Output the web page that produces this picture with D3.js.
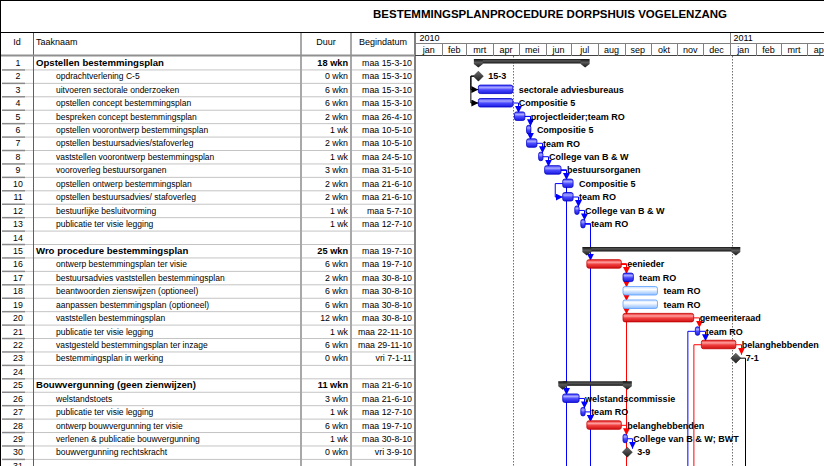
<!DOCTYPE html>
<html>
<head>
<meta charset="utf-8">
<script src="https://cdn.jsdelivr.net/npm/d3@7"></script>
<style>
  body { margin: 0; background: #fff; }
  svg { display: block; font-family: "Liberation Sans", Arial, sans-serif; }
</style>
</head>
<body>
<svg id="gantt" width="824" height="466"></svg>
<script>
// ---- data ----
const chartTitle = 'BESTEMMINGSPLANPROCEDURE DORPSHUIS VOGELENZANG';

const taskNames = [
  'Opstellen bestemmingsplan', 'opdrachtverlening C-5', 'uitvoeren sectorale onderzoeken',
  'opstellen concept bestemmingsplan', 'bespreken concept bestemmingsplan',
  'opstellen voorontwerp bestemmingsplan', 'opstellen bestuursadvies/stafoverleg',
  'vaststellen voorontwerp bestemmingsplan', 'vooroverleg bestuursorganen',
  'opstellen ontwerp bestemmingsplan', 'opstellen bestuursadvies/ stafoverleg',
  'bestuurlijke besluitvorming', 'publicatie ter visie legging', '',
  'Wro procedure bestemmingsplan', 'ontwerp bestemmingsplan ter visie',
  'bestuursadvies vaststellen bestemmingsplan', 'beantwoorden zienswijzen (optioneel)',
  'aanpassen bestemmingsplan (optioneel)', 'vaststellen bestemmingsplan',
  'publicatie ter visie legging', 'vastgesteld bestemmingsplan ter inzage',
  'bestemmingsplan in werking', '',
  'Bouwvergunning (geen zienwijzen)', 'welstandstoets', 'publicatie ter visie legging',
  'ontwerp bouwvergunning ter visie', 'verlenen & publicatie bouwvergunning',
  'bouwvergunning rechtskracht', ''
];

const durations = [
  '18 wkn', '0 wkn', '6 wkn', '6 wkn', '2 wkn', '1 wk', '2 wkn', '1 wk', '3 wkn', '2 wkn',
  '2 wkn', '1 wk', '1 wk', '', '25 wkn', '6 wkn', '2 wkn', '6 wkn', '6 wkn', '12 wkn',
  '1 wk', '6 wkn', '0 wkn', '', '11 wkn', '3 wkn', '1 wk', '6 wkn', '1 wk', '0 wkn', ''
];

const startLabels = [
  'maa 15-3-10', 'maa 15-3-10', 'maa 15-3-10', 'maa 15-3-10', 'maa 26-4-10', 'maa 10-5-10',
  'maa 10-5-10', 'maa 24-5-10', 'maa 31-5-10', 'maa 21-6-10', 'maa 21-6-10', 'maa 5-7-10',
  'maa 12-7-10', '', 'maa 19-7-10', 'maa 19-7-10', 'maa 30-8-10', 'maa 30-8-10',
  'maa 30-8-10', 'maa 30-8-10', 'maa 22-11-10', 'maa 29-11-10', 'vri 7-1-11', '',
  'maa 21-6-10', 'maa 21-6-10', 'maa 12-7-10', 'maa 19-7-10', 'maa 30-8-10', 'vri 3-9-10', ''
];

// bar start / bar end (end = midnight after the last working day)
const barStarts = [
  '2010-03-15', '2010-03-15', '2010-03-15', '2010-03-15', '2010-04-26', '2010-05-10',
  '2010-05-10', '2010-05-24', '2010-05-31', '2010-06-21', '2010-06-21', '2010-07-05',
  '2010-07-12', '', '2010-07-19', '2010-07-19', '2010-08-30', '2010-08-30',
  '2010-08-30', '2010-08-30', '2010-11-22', '2010-11-29', '2011-01-08', '',
  '2010-06-21', '2010-06-21', '2010-07-12', '2010-07-19', '2010-08-30', '2010-09-04', ''
];
const barEnds = [
  '2010-07-17', '2010-03-15', '2010-04-24', '2010-04-24', '2010-05-08', '2010-05-15',
  '2010-05-22', '2010-05-29', '2010-06-19', '2010-07-03', '2010-07-03', '2010-07-10',
  '2010-07-17', '', '2011-01-08', '2010-08-28', '2010-09-11', '2010-10-09',
  '2010-10-09', '2010-11-20', '2010-11-27', '2011-01-08', '2011-01-08', '',
  '2010-09-04', '2010-07-10', '2010-07-17', '2010-08-28', '2010-09-04', '2010-09-04', ''
];

// summary | milestone | task | critical | optional
const barKinds = [
  'summary', 'milestone', 'task', 'task', 'task', 'task', 'task', 'task', 'task', 'task',
  'task', 'task', 'task', '', 'summary', 'critical', 'task', 'optional', 'optional', 'critical',
  'task', 'critical', 'milestone', '', 'summary', 'task', 'task', 'critical', 'task', 'milestone', ''
];

const barLabels = [
  '', '15-3', 'sectorale adviesbureaus', 'Compositie 5', 'projectleider;team RO', 'Compositie 5',
  'team RO', 'College van B & W', 'bestuursorganen', 'Compositie 5', 'team RO',
  'College van B & W', 'team RO', '', '', 'eenieder', 'team RO', 'team RO', 'team RO',
  'gemeenteraad', 'team RO', 'belanghebbenden', '7-1', '', '', 'welstandscommissie',
  'team RO', 'belanghebbenden', 'College van B & W; BWT', '3-9', ''
];

// links (task ids); null target = a task below the visible part
const linkFrom  = [2, 2, 4, 5, 5, 7, 8, 9, 9, 9, 10, 11, 12, 13, 13, 13, 16, 16, 16, 16, 16, 20, 21, 21, 22, 22, 23, 26, 27, 28, 29];
const linkTo    = [3, 4, 5, 6, 7, 8, 9, 10, 26, null, 11, 12, 13, 16, 28, null, 17, 18, 19, 20, null, 21, 22, null, 23, null, null, 27, 28, 29, 30];
const linkTypes = ['ss', 'ss', 'fs', 'fs', 'fs', 'fs', 'fs', 'fs', 'fs', 'fs', 'ss', 'fs', 'fs', 'fs', 'fs', 'fs', 'fs', 'fs', 'fs', 'fs', 'fs', 'fs', 'fs', 'ss', 'fs', 'ss', 'fs', 'fs', 'fs', 'fs', 'fs'];
const linkColors = ['k', 'k', 'b', 'b', 'b', 'b', 'b', 'b', 'b', 'b', 'b', 'b', 'b', 'b', 'b', 'b', 'r', 'r', 'r', 'r', 'r', 'r', 'b', 'b', 'r', 'r', 'k', 'b', 'b', 'r', 'b'];

const years = ['2010', '2011'];
const monthNames = ['jan', 'feb', 'mrt', 'apr', 'mei', 'jun', 'jul', 'aug', 'sep', 'okt', 'nov', 'dec'];
const markerDates = ['2010-04-24', '2011-01-03'];

// ---- layout ----
const W = 824, H = 466;
const cols = { id: 1, name: 33, dur: 301, start: 351, end: 415 };
const headTop = 33, headBottom = 56, rowH = 13.43;
const parse = d3.timeParse('%Y-%m-%d');
const colorMap = { b: '#0000ff', r: '#ff0000', k: '#000000' };

const svg = d3.select('#gantt');
const defs = svg.append('defs');

function grad(id, stops) {
  const g = defs.append('linearGradient').attr('id', id)
    .attr('x1', 0).attr('y1', 0).attr('x2', 0).attr('y2', 1);
  stops.forEach(s => g.append('stop').attr('offset', s[0]).attr('stop-color', s[1]));
}
grad('gBlue', [[0, '#3a3aff'], [0.3, '#a8a8ff'], [0.55, '#4a4aff'], [1, '#1a1ae0']]);
grad('gRed', [[0, '#e82020'], [0.3, '#ffa0a0'], [0.55, '#f04040'], [1, '#d01010']]);
grad('gOpt', [[0, '#c8e0ff'], [0.35, '#ffffff'], [0.6, '#cfe3ff'], [1, '#8fbfff']]);
grad('gSum', [[0, '#101010'], [0.4, '#5a5a5a'], [1, '#141414']]);
grad('gMile', [[0, '#6a6a6a'], [1, '#202020']]);

['b', 'r', 'k'].forEach(c => {
  defs.append('marker').attr('id', 'arrow-' + c)
    .attr('viewBox', '0 0 10 10').attr('refX', 10).attr('refY', 5)
    .attr('markerWidth', 7).attr('markerHeight', 7).attr('markerUnits', 'userSpaceOnUse')
    .attr('orient', 'auto')
    .append('path').attr('d', 'M0,0L10,5L0,10Z').attr('fill', colorMap[c]);
});

// scales
const x = d3.scaleTime()
  .domain([parse('2010-01-01'), parse('2011-01-01')])
  .range([415.5, 729.8]);
const y = d3.scaleLinear().domain([0, taskNames.length]).range([headBottom, headBottom + taskNames.length * rowH]);
const rowTop = i => y(i);
const rowMid = i => y(i) + rowH / 2;

// ---- title ----
svg.append('text')
  .attr('x', 550).attr('y', 18)
  .attr('text-anchor', 'middle')
  .attr('font-size', 11.5).attr('font-weight', 'bold')
  .text(chartTitle);

// ---- table ----
const table = svg.append('g').attr('class', 'table');
taskNames.forEach((name, i) => {
  const yy = rowTop(i + 1);
  table.append('line').attr('x1', cols.name).attr('x2', cols.end).attr('y1', yy + 0.5).attr('y2', yy + 0.5)
    .attr('stroke', '#c4c4c4');
  table.append('line').attr('x1', 2).attr('x2', cols.name - 8).attr('y1', yy + 0.5).attr('y2', yy + 0.5)
    .attr('stroke', '#8a8a8a').attr('stroke-width', 1.5);
  table.append('line').attr('x1', cols.name - 8).attr('x2', cols.name).attr('y1', yy + 0.5).attr('y2', yy + 0.5)
    .attr('stroke', '#c4c4c4');

  const ty = rowMid(i) + 3.2;
  const summary = barKinds[i] === 'summary';
  const fs = summary ? 9.6 : 8.5;
  table.append('text').attr('x', 18).attr('y', ty).attr('text-anchor', 'middle')
    .attr('font-size', 8.8).text(i + 1);
  table.append('text').attr('x', summary ? cols.name + 3 : cols.name + 23).attr('y', ty)
    .attr('font-size', fs).attr('font-weight', summary ? 'bold' : 'normal').text(name);
  table.append('text').attr('x', cols.start - 3).attr('y', ty).attr('text-anchor', 'end')
    .attr('font-size', summary ? 9.2 : 8.8).attr('font-weight', summary ? 'bold' : 'normal').text(durations[i]);
  table.append('text').attr('x', cols.end - 3).attr('y', ty).attr('text-anchor', 'end')
    .attr('font-size', 8.8).text(startLabels[i]);
});

// column lines
table.append('line').attr('x1', cols.name + 0.5).attr('x2', cols.name + 0.5).attr('y1', headTop).attr('y2', H)
  .attr('stroke', '#606060');
[cols.dur, cols.start].forEach(cx => {
  table.append('line').attr('x1', cx).attr('x2', cx).attr('y1', headTop).attr('y2', H)
    .attr('stroke', '#a8a8a8').attr('stroke-width', 2);
});
table.append('line').attr('x1', cols.end).attr('x2', cols.end).attr('y1', headTop).attr('y2', H)
  .attr('stroke', '#808080').attr('stroke-width', 2);

// column headers
const headY = 45;
table.append('text').attr('x', 17).attr('y', headY).attr('text-anchor', 'middle').attr('font-size', 9).text('Id');
table.append('text').attr('x', cols.name + 3).attr('y', headY).attr('font-size', 9).text('Taaknaam');
table.append('text').attr('x', (cols.dur + cols.start) / 2).attr('y', headY).attr('text-anchor', 'middle').attr('font-size', 9).text('Duur');
table.append('text').attr('x', (cols.start + cols.end) / 2).attr('y', headY).attr('text-anchor', 'middle').attr('font-size', 9).text('Begindatum');
table.append('line').attr('x1', 0).attr('x2', cols.end).attr('y1', headBottom - 0.5).attr('y2', headBottom - 0.5)
  .attr('stroke', '#909090').attr('stroke-width', 2);

// ---- timescale header ----
const tl = svg.append('g').attr('class', 'timescale');
const t0 = parse('2010-01-01'), t1 = parse('2011-06-01');
const yearMid = 43;
tl.append('line').attr('x1', cols.end).attr('x2', W).attr('y1', yearMid + 0.5).attr('y2', yearMid + 0.5).attr('stroke', '#808080');
tl.append('line').attr('x1', cols.end).attr('x2', W).attr('y1', headBottom - 0.5).attr('y2', headBottom - 0.5).attr('stroke', '#404040');

d3.timeYear.range(t0, t1).forEach((d, i) => {
  const xx = Math.round(x(d)) + 0.5;
  if (i > 0) tl.append('line').attr('x1', xx).attr('x2', xx).attr('y1', headTop).attr('y2', headBottom).attr('stroke', '#808080');
  tl.append('text').attr('x', xx + 3).attr('y', 41).attr('font-size', 9).text(years[i]);
});
d3.timeMonth.range(t0, t1).forEach(d => {
  const xx = Math.round(x(d)) + 0.5;
  const next = d3.timeMonth.offset(d, 1);
  if (d.getMonth() !== 0 || d.getFullYear() !== 2010)
    tl.append('line').attr('x1', xx).attr('x2', xx).attr('y1', yearMid).attr('y2', headBottom).attr('stroke', '#808080');
  tl.append('text').attr('x', (x(d) + x(next)) / 2).attr('y', 53).attr('text-anchor', 'middle')
    .attr('font-size', 9).text(monthNames[d.getMonth()]);
});

// marker lines
markerDates.forEach(ds => {
  const xx = Math.round(x(parse(ds))) + 0.5;
  tl.append('line').attr('x1', xx).attr('x2', xx).attr('y1', headBottom).attr('y2', H)
    .attr('stroke', '#707070').attr('stroke-dasharray', '1.5,1.5');
});

// ---- links ----
const gl = svg.append('g').attr('class', 'links').attr('fill', 'none');
const barStartX = i => x(parse(barStarts[i - 1]));
const barEndX = i => x(parse(barEnds[i - 1]));
linkFrom.forEach((from, k) => {
  const to = linkTo[k];
  const col = colorMap[linkColors[k]];
  const yFrom = rowMid(from - 1);
  let d;
  if (linkTypes[k] === 'ss') {
    const xs = barStartX(from) - (barKinds[from - 1] === 'milestone' ? 4 : 0);
    const xe = barStartX(from) - 7.5;
    if (to === null) d = `M${xs},${yFrom}H${xe}V${H}`;
    else d = `M${xs},${yFrom}H${xe}V${rowMid(to - 1)}H${barStartX(to)}`;
  } else {
    const xs = barEndX(from) + (barKinds[from - 1] === 'milestone' ? 4 : 0);
    const xe = Math.round(Math.max(xs + 2, to === null ? 0 : barStartX(to)) + 3) + 0.5;
    if (to === null) d = `M${xs},${yFrom}H${xe}V${H}`;
    else d = `M${xs},${yFrom}H${xe}V${rowMid(to - 1) - 3.5}`;
  }
  const p = gl.append('path').attr('d', d).attr('stroke', col).attr('stroke-width', 1);
  if (to !== null) p.attr('marker-end', `url(#arrow-${linkColors[k]})`);
});

// ---- bars ----
const gb = svg.append('g').attr('class', 'bars');
barKinds.forEach((kind, i) => {
  if (!kind) return;
  const xs = x(parse(barStarts[i])), xe = x(parse(barEnds[i]));
  const top = rowTop(i);
  const mid = rowMid(i);
  if (kind === 'summary') {
    gb.append('rect').attr('x', xs).attr('y', top + 3).attr('width', xe - xs).attr('height', 4.5)
      .attr('fill', 'url(#gSum)');
    [xs, xe].forEach(cx => {
      gb.append('path')
        .attr('d', `M${cx - 4.5},${top + 3}H${cx + 4.5}V${top + 8}L${cx},${top + 11.5}L${cx - 4.5},${top + 8}Z`)
        .attr('fill', 'url(#gSum)');
    });
  } else if (kind === 'milestone') {
    gb.append('path')
      .attr('d', `M${xs},${mid - 5}L${xs + 5},${mid}L${xs},${mid + 5}L${xs - 5},${mid}Z`)
      .attr('fill', 'url(#gMile)').attr('stroke', '#202020').attr('stroke-width', 0.5);
  } else {
    const fill = kind === 'critical' ? 'url(#gRed)' : kind === 'optional' ? 'url(#gOpt)' : 'url(#gBlue)';
    const stroke = kind === 'critical' ? '#c00000' : kind === 'optional' ? '#5a9cff' : '#0000c8';
    gb.append('rect').attr('x', xs).attr('y', mid - 4.5).attr('width', xe - xs).attr('height', 8.5)
      .attr('rx', 2).attr('fill', fill).attr('stroke', stroke).attr('stroke-width', 0.8);
  }
  if (barLabels[i]) {
    const lx = kind === 'milestone' ? xs + 10 : xe + 6;
    gb.append('text').attr('x', lx).attr('y', mid + 3.3)
      .attr('font-size', 9).attr('font-weight', 'bold').text(barLabels[i]);
  }
});

// ---- frame ----
svg.append('line').attr('x1', 0).attr('x2', W).attr('y1', 0.5).attr('y2', 0.5).attr('stroke', '#000');
svg.append('line').attr('x1', 0).attr('x2', W).attr('y1', headTop - 0.5).attr('y2', headTop - 0.5).attr('stroke', '#000');
svg.append('line').attr('x1', 0.5).attr('x2', 0.5).attr('y1', 0).attr('y2', H).attr('stroke', '#000');
</script>
</body>
</html>
